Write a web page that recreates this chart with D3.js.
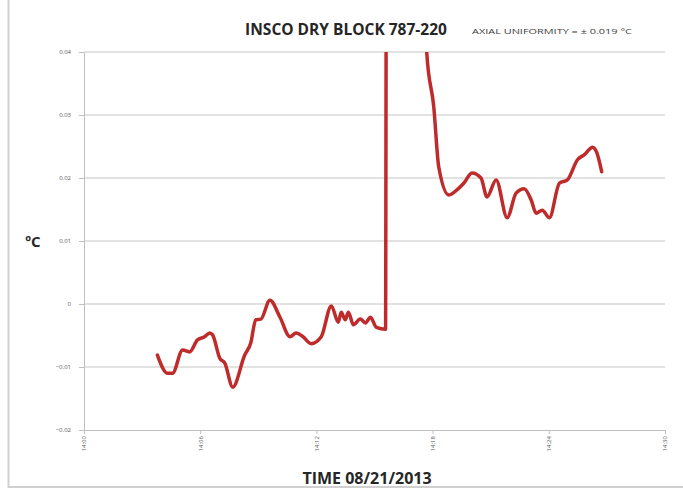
<!DOCTYPE html>
<html>
<head>
<meta charset="utf-8">
<script src="https://cdn.jsdelivr.net/npm/d3@7"></script>
<style>
  body { margin: 0; background: #fff; }
  .grid { stroke: #d9d9d9; stroke-width: 1.5; }
  .axis path, .axis line { stroke: #bfbfbf; }
  .axis text { fill: #595959; font-size: 6px; font-family: 'Open Sans', sans-serif; }
</style>
</head>
<body>
<div id="chart"></div>
<script>
// Minutes after 14:00 and block temperature deviation (deg C)
let minutes = [3.79, 4.31, 4.57, 5.09, 5.45, 5.86, 6.23, 6.49, 6.64, 7.01, 7.27, 7.68,
    8.30, 8.61, 8.87, 9.13, 9.60, 10.12, 10.64, 10.95, 11.31, 11.73, 12.25, 12.77,
    13.13, 13.28, 13.49, 13.65, 13.91, 14.27, 14.53, 14.79, 15.10, 15.57, 15.62,
    17.49, 17.70, 18.06, 18.32, 18.84, 19.36, 19.62, 20.03, 20.50, 20.81, 21.28,
    21.85, 22.31, 22.73, 23.09, 23.35, 23.66, 24.03, 24.55, 24.96, 25.48, 25.84,
    26.26, 26.47, 26.73];
let tempC = [-0.0081, -0.0110, -0.0110, -0.0073, -0.0076, -0.0057, -0.0052, -0.0046,
    -0.0049, -0.0086, -0.0094, -0.0132, -0.0081, -0.0062, -0.0025, -0.0024, 0.0006,
    -0.0021, -0.0052, -0.0046, -0.0052, -0.0063, -0.0052, -0.0003, -0.0029, -0.0013,
    -0.0025, -0.0013, -0.0033, -0.0024, -0.0030, -0.0021, -0.0037, -0.0040, 0.07,
    0.07, 0.0398, 0.0313, 0.0217, 0.0173, 0.0184, 0.0192, 0.0208, 0.0200, 0.0170,
    0.0197, 0.0137, 0.0176, 0.0183, 0.0165, 0.0144, 0.0149, 0.0137, 0.0192, 0.0197,
    0.0229, 0.0237, 0.0249, 0.0241, 0.0210];
let yTicks = [-0.02, -0.01, 0, 0.01, 0.02, 0.03, 0.04];
let xTickMinutes = [0, 6, 12, 18, 24, 30];
let xTickLabels = ['14:00', '14:06', '14:12', '14:18', '14:24', '14:30'];

let mainTitle = 'INSCO DRY BLOCK 787-220';
let subTitle = 'AXIAL UNIFORMITY = \u00B1 0.019 \u00B0C';
let xTitle = 'TIME 08/21/2013';
let yTitle = '\u00BAC';

let width = 683, height = 491;
let plot = {left: 84, right: 665, top: 52, bottom: 430};

let scX = d3.scaleLinear().domain([0, 30]).range([plot.left, plot.right]);
let scY = d3.scaleLinear().domain([-0.02, 0.04]).range([plot.bottom, plot.top]);

let svg = d3.select('#chart').append('svg')
    .attr('width', width)
    .attr('height', height);

// Chart frame
svg.append('rect')
    .attr('x', 8.5).attr('y', -2)
    .attr('width', width).attr('height', 489)
    .attr('fill', 'none')
    .attr('stroke', '#d0d0d0')
    .attr('stroke-width', 2);

// Horizontal gridlines
svg.selectAll('line.grid')
    .data(yTicks.filter(d => d > -0.02))
    .enter()
    .append('line')
        .attr('class', 'grid')
        .attr('x1', plot.left)
        .attr('x2', plot.right)
        .attr('y1', d => scY(d))
        .attr('y2', d => scY(d));

// Axes
svg.append('g')
    .attr('class', 'axis y-axis')
    .attr('transform', `translate(${plot.left},0)`)
    .call(d3.axisLeft(scY).tickValues(yTicks).tickSize(5).tickSizeOuter(0)
        .tickFormat(d => d === 0 ? '0' : d3.format('.2f')(d)))
    .selectAll('text').attr('dx', '-5px');

let xAxis = svg.append('g')
    .attr('class', 'axis x-axis')
    .attr('transform', `translate(0,${plot.bottom})`)
    .call(d3.axisBottom(scX).tickValues(xTickMinutes).tickSize(4).tickSizeOuter(0)
        .tickFormat((d, i) => xTickLabels[i]));
xAxis.selectAll('text')
    .attr('transform', 'rotate(-90)')
    .attr('text-anchor', 'end')
    .attr('x', -6)
    .attr('y', 0)
    .attr('dy', '0.32em');

// Data line, clipped to the plot area
svg.append('clipPath').attr('id', 'plot-clip')
    .append('rect')
        .attr('x', plot.left).attr('y', plot.top)
        .attr('width', plot.right - plot.left).attr('height', plot.bottom - plot.top);

let line = d3.line()
    .curve(d3.curveMonotoneX)
    .x(d => scX(d[0]))
    .y(d => scY(d[1]));

svg.append('path')
    .attr('clip-path', 'url(#plot-clip)')
    .attr('fill', 'none')
    .attr('stroke', '#bf2b2b')
    .attr('stroke-width', 3.5)
    .attr('stroke-linejoin', 'round')
    .attr('stroke-linecap', 'round')
    .attr('d', line(minutes.map((m, i) => [m, tempC[i]])));

// Titles
svg.append('text')
    .attr('x', 346).attr('y', 35)
    .attr('text-anchor', 'middle')
    .style('font-family', "'Open Sans', sans-serif")
    .style('font-weight', 700)
    .style('font-size', '15.5px')
    .attr('fill', '#262626')
    .text(mainTitle);
svg.append('text')
    .attr('x', 472).attr('y', 34)
    .attr('textLength', 160)
    .attr('lengthAdjust', 'spacingAndGlyphs')
    .style('font-family', "'Open Sans', sans-serif")
    .style('font-size', '8px')
    .attr('fill', '#404040')
    .text(subTitle);
svg.append('text')
    .attr('x', 367).attr('y', 484)
    .attr('text-anchor', 'middle')
    .style('font-family', "'Open Sans', sans-serif")
    .style('font-weight', 700)
    .style('font-size', '16px')
    .attr('fill', '#262626')
    .text(xTitle);
svg.append('text')
    .attr('x', 33).attr('y', 247)
    .attr('text-anchor', 'middle')
    .style('font-family', "'Open Sans', sans-serif")
    .style('font-weight', 700)
    .style('font-size', '15px')
    .attr('fill', '#262626')
    .text(yTitle);
</script>
</body>
</html>
